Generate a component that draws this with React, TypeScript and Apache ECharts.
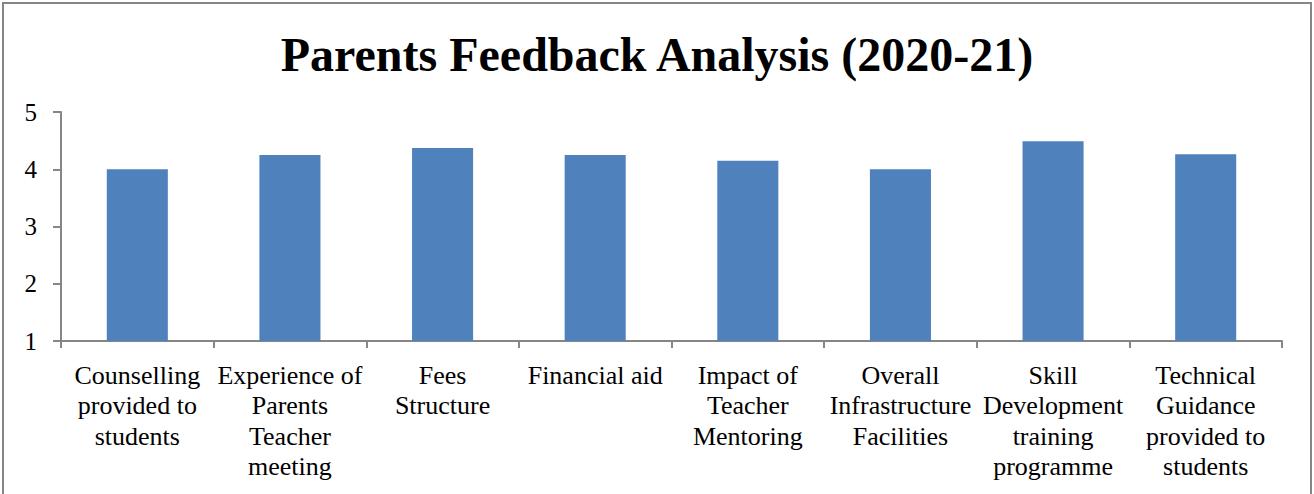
import React, { useEffect, useRef } from "react";
import * as echarts from "echarts";

const categories = [
  "Counselling\nprovided to\nstudents",
  "Experience of\nParents\nTeacher\nmeeting",
  "Fees\nStructure",
  "Financial aid",
  "Impact of\nTeacher\nMentoring",
  "Overall\nInfrastructure\nFacilities",
  "Skill\nDevelopment\ntraining\nprogramme",
  "Technical\nGuidance\nprovided to\nstudents",
];
const scores = [4.0, 4.25, 4.37, 4.25, 4.15, 4.0, 4.49, 4.26];
const titleText = "Parents Feedback Analysis (2020-21)";

export default function App() {
  const ref = useRef<HTMLDivElement>(null);
  useEffect(() => {
    const chart = echarts.init(ref.current!, null, { renderer: "svg" });
    const font = "'Liberation Serif', 'Times New Roman', serif";
    chart.setOption({
      animation: false,
      backgroundColor: "#ffffff",
      title: {
        text: titleText,
        left: "center",
        top: 25,
        textStyle: { fontFamily: font, fontWeight: "bold", fontSize: 48, color: "#000" },
      },
      graphic: [
        {
          type: "rect",
          shape: { x: 3, y: 3, width: 1308, height: 500 },
          style: { fill: "none", stroke: "#868686", lineWidth: 2 },
          silent: true,
        },
      ],
      grid: { left: 61, right: 32, top: 112, bottom: 153 },
      xAxis: {
        type: "category",
        data: categories,
        axisLine: { lineStyle: { color: "#868686", width: 2 } },
        axisTick: { show: true, length: 7, lineStyle: { color: "#868686", width: 2 } },
        axisLabel: {
          interval: 0,
          margin: 19,
          fontFamily: font,
          fontSize: 26,
          lineHeight: 30.5,
          color: "#000",
          verticalAlign: "top",
        },
      },
      yAxis: {
        type: "value",
        min: 1,
        max: 5,
        interval: 1,
        splitLine: { show: false },
        axisLine: { show: true, lineStyle: { color: "#868686", width: 2 } },
        axisTick: { show: true, length: 8, lineStyle: { color: "#868686", width: 2 } },
        axisLabel: { margin: 24, fontFamily: font, fontSize: 25, color: "#000" },
      },
      series: [
        {
          type: "bar",
          data: scores,
          barCategoryGap: "60%",
          itemStyle: { color: "#4F81BD" },
        },
      ],
    });
    return () => chart.dispose();
  }, []);
  return (
    <div
      ref={ref}
      style={{ position: "fixed", left: 0, top: 0, width: 1314, height: 494 }}
    />
  );
}
